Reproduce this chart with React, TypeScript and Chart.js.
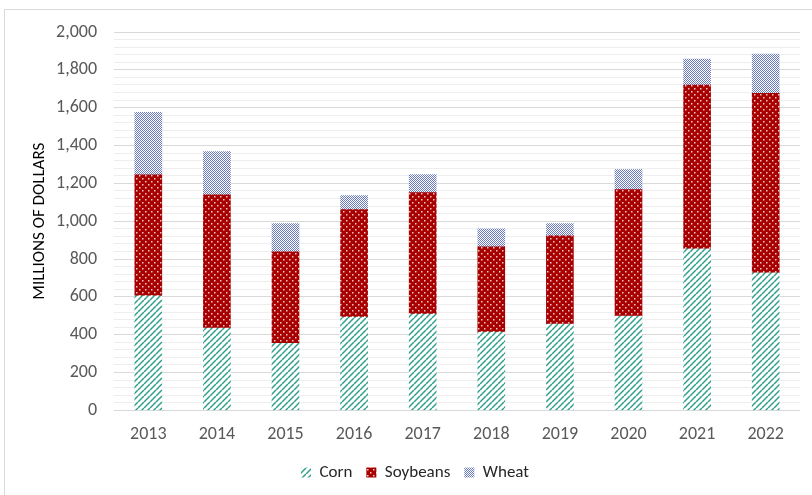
import React, { useEffect, useRef } from "react";
import { Chart, registerables } from "chart.js";

Chart.register(...registerables);

const years = ["2013", "2014", "2015", "2016", "2017", "2018", "2019", "2020", "2021", "2022"];
const corn = [605, 435, 355, 493, 509, 414, 456, 499, 854, 727];
const soybeans = [640, 705, 483, 568, 642, 451, 467, 668, 865, 949];
const wheat = [330, 228, 149, 74, 96, 95, 64, 106, 138, 207];

const FONT = "Carlito, Lato, 'Liberation Sans', sans-serif";

function makePattern(kind: string): CanvasPattern | string {
  const c = document.createElement("canvas");
  const ctx = c.getContext("2d");
  if (!ctx) return "#888";
  if (kind === "corn") {
    c.width = 6; c.height = 6;
    ctx.fillStyle = "#ffffff";
    ctx.fillRect(0, 0, 6, 6);
    ctx.strokeStyle = "#2f9f8c";
    ctx.lineWidth = 1.5;
    for (let o = -6; o <= 12; o += 6) {
      ctx.beginPath();
      ctx.moveTo(o, 6);
      ctx.lineTo(o + 6, 0);
      ctx.stroke();
    }
  } else if (kind === "soy") {
    c.width = 6; c.height = 6;
    ctx.fillStyle = "#a80000";
    ctx.fillRect(0, 0, 6, 6);
    ctx.fillStyle = "#f3c8c8";
    ctx.fillRect(1, 1, 1.5, 1.5);
    ctx.fillRect(4, 4, 1.5, 1.5);
  } else {
    c.width = 2; c.height = 2;
    ctx.fillStyle = "#ffffff";
    ctx.fillRect(0, 0, 2, 2);
    ctx.fillStyle = "#6878c4";
    ctx.fillRect(0, 0, 1, 1);
    ctx.fillRect(1, 1, 1, 1);
  }
  return ctx.createPattern(c, "repeat") || "#888";
}

const framePlugin = {
  id: "frame",
  beforeDraw(chart: any) {
    const ctx = chart.ctx;
    ctx.save();
    ctx.fillStyle = "#ffffff";
    ctx.fillRect(0, 0, chart.width, chart.height);
    ctx.strokeStyle = "#d9d9d9";
    ctx.lineWidth = 1;
    ctx.beginPath();
    ctx.moveTo(4.5, chart.height + 2);
    ctx.lineTo(4.5, 9.5);
    ctx.lineTo(chart.width + 2, 9.5);
    ctx.stroke();
    ctx.restore();
  },
};

const legendShiftPlugin = {
  id: "legendShift",
  afterLayout(chart: any) {
    if (chart.legend) {
      chart.legend.left += 15;
      chart.legend.right += 15;
    }
  },
};

export default function App() {
  const ref = useRef<HTMLCanvasElement>(null);
  useEffect(() => {
    if (!ref.current) return;
    const cornP = makePattern("corn");
    const soyP = makePattern("soy");
    const wheatP = makePattern("wheat");
    const chart = new Chart(ref.current, {
      type: "bar",
      data: {
        labels: years,
        datasets: [
          { label: "Corn", data: corn, backgroundColor: cornP as any, borderWidth: 0 },
          { label: "Soybeans", data: soybeans, backgroundColor: soyP as any, borderWidth: 0 },
          { label: "Wheat", data: wheat, backgroundColor: wheatP as any, borderWidth: 0 },
        ],
      },
      options: {
        responsive: false,
        animation: false,
        devicePixelRatio: 1,
        layout: { padding: { left: 0, right: 12, top: 32, bottom: 4 } },
        datasets: { bar: { barThickness: 27 } },
        plugins: {
          legend: {
            position: "bottom",
            labels: {
              boxWidth: 10,
              boxHeight: 10,
              padding: 14,
              color: "#262626",
              font: { family: FONT, size: 17, lineHeight: 1 },
            },
          },
          tooltip: { enabled: false },
        },
        scales: {
          x: {
            stacked: true,
            grid: { display: false },
            border: { display: false },
            ticks: { color: "#595959", font: { family: FONT, size: 18 }, padding: 5 },
          },
          y: {
            stacked: true,
            min: 0,
            max: 2000,
            border: { display: false },
            afterFit: (scale: any) => {
              scale.width = 114;
            },
            grid: {
              drawTicks: false,
              color: (c: any) => (c.tick && c.tick.value % 200 === 0 ? "#d9d9d9" : "#eeeeee"),
            },
            ticks: {
              stepSize: 40,
              autoSkip: false,
              padding: 17,
              color: "#595959",
              font: { family: FONT, size: 18 },
              callback: (v: any) => (Number(v) % 200 === 0 ? Number(v).toLocaleString("en-US") : ""),
            },
            title: {
              display: true,
              text: "MILLIONS OF DOLLARS",
              color: "#000000",
              font: { family: FONT, size: 17 },
              padding: { top: 30, bottom: 0 },
            },
          },
        },
      },
      plugins: [framePlugin, legendShiftPlugin],
    });
    return () => chart.destroy();
  }, []);
  return (
    <div style={{ position: "fixed", left: 0, top: 0, width: 812, height: 495 }}>
      <canvas ref={ref} width={812} height={495} style={{ display: "block" }} />
    </div>
  );
}
